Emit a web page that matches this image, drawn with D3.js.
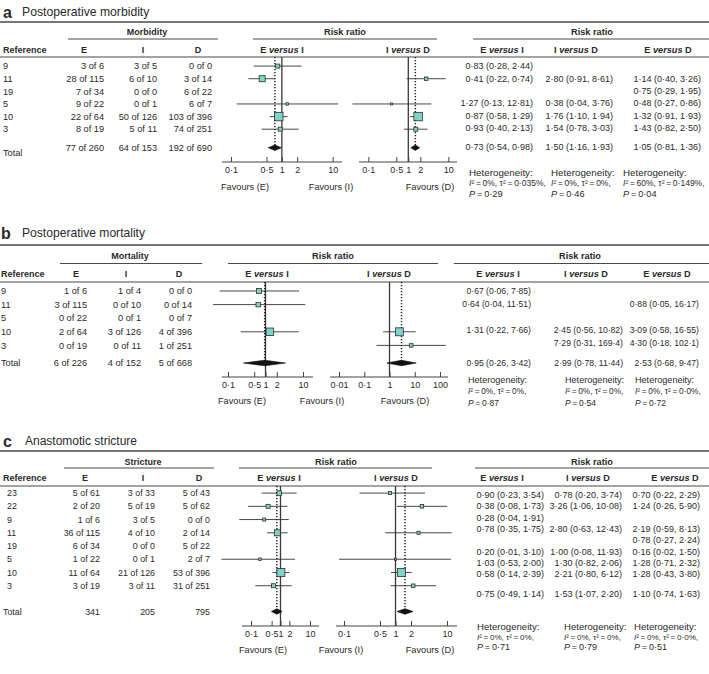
<!DOCTYPE html>
<html><head><meta charset="utf-8">
<script src="https://cdn.jsdelivr.net/npm/d3@7"></script>
<style>
body{margin:0;background:#fff;}
svg text{font-family:"Liberation Sans",Arial,Helvetica,sans-serif;fill:#2a2a2a;}
</style></head><body>
<svg id="chart" width="709" height="674"></svg>
<script>
// ---------- Panel a: Postoperative morbidity ----------
const refsA = ["9","11","19","5","10","3"];
const eA = ["3 of 6","28 of 115","7 of 34","9 of 22","22 of 64","8 of 19"];
const iA = ["3 of 5","6 of 10","0 of 0","0 of 1","50 of 126","5 of 11"];
const dA = ["0 of 0","3 of 14","6 of 22","6 of 7","103 of 396","74 of 251"];
const totA = ["77 of 260","64 of 153","192 of 690"];
const rrEI_A = [[0.83,0.28,2.44],[0.41,0.22,0.74],null,[1.27,0.13,12.81],[0.87,0.58,1.29],[0.93,0.40,2.13]];
const rrID_A = [null,[2.80,0.91,8.61],null,[0.38,0.04,3.76],[1.76,1.10,1.94],[1.54,0.78,3.03]];
const rrED_A = [null,[1.14,0.40,3.26],[0.75,0.29,1.95],[0.48,0.27,0.86],[1.32,0.91,1.93],[1.43,0.82,2.50]];
const poolA = [[0.73,0.54,0.98],[1.50,1.16,1.93],[1.05,0.81,1.36]];
const wEI_A = [12,27,null,4.6,53,12];
const wID_A = [null,9,null,3,53,12];
const hetA = {I2:["0%","0%","60%"], tau:["0·035%","0%","0·149%"], P:["0·29","0·46","0·04"]};

// ---------- Panel b: Postoperative mortality ----------
const refsB = ["9","11","5","10","3"];
const eB = ["1 of 6","3 of 115","0 of 22","2 of 64","0 of 19"];
const iB = ["1 of 4","0 of 10","0 of 1","3 of 126","0 of 11"];
const dB = ["0 of 0","0 of 14","0 of 7","4 of 396","1 of 251"];
const totB = ["6 of 226","4 of 152","5 of 668"];
const rrEI_B = [[0.67,0.06,7.85],[0.64,0.04,11.51],null,[1.31,0.22,7.66],null];
const rrID_B = [null,null,null,[2.45,0.56,10.82],[7.29,0.31,169.4]];
const rrED_B = [null,[0.88,0.05,16.17],null,[3.09,0.58,16.55],[4.30,0.18,102.1]];
const poolB = [[0.95,0.26,3.42],[2.99,0.78,11.44],[2.53,0.68,9.47]];
const wEI_B = [18.5,15,null,42,null];
const wID_B = [null,null,null,47,9];
const hetB = {I2:["0%","0%","0%"], tau:["0%","0%","0·0%"], P:["0·87","0·54","0·72"]};

// ---------- Panel c: Anastomotic stricture ----------
const refsC = ["23","22","9","11","19","5","10","3"];
const eC = ["5 of 61","2 of 20","1 of 6","36 of 115","6 of 34","1 of 22","11 of 64","3 of 19"];
const iC = ["3 of 33","5 of 19","3 of 5","4 of 10","0 of 0","0 of 1","21 of 126","3 of 11"];
const dC = ["5 of 43","5 of 62","0 of 0","2 of 14","5 of 22","2 of 7","53 of 396","31 of 251"];
const totC = ["341","205","795"];
const rrEI_C = [[0.90,0.23,3.54],[0.38,0.08,1.73],[0.28,0.04,1.91],[0.78,0.35,1.75],null,[0.20,0.01,3.10],[1.03,0.53,2.00],[0.58,0.14,2.39]];
const rrID_C = [[0.78,0.20,3.74],[3.26,1.06,10.08],null,[2.80,0.63,12.43],null,[1.00,0.08,11.93],[1.30,0.82,2.06],[2.21,0.80,6.12]];
const rrED_C = [[0.70,0.22,2.29],[1.24,0.26,5.90],null,[2.19,0.59,8.13],[0.78,0.27,2.24],[0.16,0.02,1.50],[1.28,0.71,2.32],[1.28,0.43,3.80]];
const poolC = [[0.75,0.49,1.14],[1.53,1.07,2.20],[1.10,0.74,1.63]];
const wEI_C = [15,12,6.7,27,null,4.6,47,12];
const wID_C = [6.7,9,null,6.7,null,3,47,9];
const hetC = {I2:["0%","0%","0%"], tau:["0%","0%","0·0%"], P:["0·71","0·79","0·51"]};

// ---------- Axis ticks ----------
const ticksStd = [0.1,0.5,1,2,10];
const tickLabStd = ["0·1","0·5","1","2","10"];
const ticksWide = [0.01,0.1,1,10,100];
const tickLabWide = ["0·01","0·1","1","10","100"];

// ---------- layout ----------
const panels = [
 {letter:"a", title:"Postoperative morbidity", letterX:3, titleX:22, titleY:12, topY:22, grpY:31.5, ulY:39, hdrY:50, hdrY2:57,
  grp:"Morbidity", grpX:147, grpLine:[68,218], plotHdrX:345, plotLine:[253,437], rtHdrX:592, rtLine:[473,709],
  refHX:3, refX:3, colX:[104,157,212], colHX:[84,143,198], row0:66.1, rowStep:12.62, totalY:147.7, totalLabelY:153,
  refs:refsA, cols:[eA,iA,dA], tot:totA, pool:poolA,
  cmp:[{rr:rrEI_A,w:wEI_A,k:0,d:[0.1,10],r:[231,332.7],ext:[222,342],ticks:ticksStd,tl:tickLabStd,hdrX:282,a:"E",b:"I"},
       {rr:rrID_A,w:wID_A,k:1,d:[0.1,10],r:[368.3,448.3],ext:[359,457],ticks:ticksStd,tl:tickLabStd,hdrX:408,a:"I",b:"D"}],
  axisY:162, favY:187, fav:[[245,"Favours (E)"],[331,"Favours (I)"],[430,"Favours (D)"]],
  rt:{x:[533,613,701], hx:[502,576,668], row0:66, step:12.4, totalY:147, data:[rrEI_A,rrID_A,rrED_A]},
  het:{d:hetA, x:[469,551,623], y:[173,183,193.3]},
  fs:9.2, rfs:9, hfs:9.8, h2fs:8.5, tfs:12.2},
 {letter:"b", title:"Postoperative mortality", letterX:1, titleX:22, titleY:233, topY:245, grpY:256, ulY:263.5, hdrY:274, hdrY2:282,
  grp:"Mortality", grpX:130, grpLine:[60,202], plotHdrX:333, plotLine:[228,438], rtHdrX:580, rtLine:[454,709],
  refHX:1, refX:1, colX:[87,141,192], colHX:[76,126,179], row0:291, rowStep:13.6, totalY:363, totalLabelY:363,
  refs:refsB, cols:[eB,iB,dB], tot:totB, pool:poolB,
  cmp:[{rr:rrEI_B,w:wEI_B,k:0,d:[0.1,10],r:[228,303],ext:[222,313],ticks:ticksStd,tl:tickLabStd,hdrX:267,a:"E",b:"I"},
       {rr:rrID_B,w:wID_B,k:1,d:[0.01,100],r:[339,440],ext:[330,448],ticks:ticksWide,tl:tickLabWide,hdrX:389,a:"I",b:"D"}],
  axisY:377, favY:401, fav:[[242,"Favours (E)"],[322,"Favours (I)"],[405,"Favours (D)"]],
  rt:{x:[531,623,699], hx:[498,586,667], row0:291, step:13, totalY:363, data:[rrEI_B,rrID_B,rrED_B]},
  het:{d:hetB, x:[468,565,635], y:[380,391,402.7]},
  fs:9.2, rfs:8.6, hfs:9.1, h2fs:8.3, tfs:12.1},
 {letter:"c", title:"Anastomotic stricture", letterX:3, titleX:25, titleY:441, topY:451, grpY:462, ulY:468, hdrY:478, hdrY2:486,
  grp:"Stricture", grpX:143, grpLine:[64,214], plotHdrX:336, plotLine:[239,432], rtHdrX:592, rtLine:[475,709],
  refHX:3, refX:7, colX:[100,155,210], colHX:[85,143,199], row0:493.1, rowStep:13.23, totalY:611.5, totalLabelY:612,
  refs:refsC, cols:[eC,iC,dC], tot:totC, pool:poolC,
  cmp:[{rr:rrEI_C,w:wEI_C,k:0,d:[0.1,10],r:[251,310],ext:[242,319],ticks:ticksStd,tl:tickLabStd,hdrX:279,a:"E",b:"I"},
       {rr:rrID_C,w:wID_C,k:1,d:[0.1,10],r:[344,447],ext:[336,457],ticks:ticksStd,tl:tickLabStd,hdrX:396,a:"I",b:"D"}],
  axisY:626, favY:650, fav:[[263,"Favours (E)"],[341,"Favours (I)"],[430,"Favours (D)"]],
  rt:{x:[544,622,700], hx:[502,588,675], row0:495, step:11.3, totalY:594, data:[rrEI_C,rrID_C,rrED_C]},
  het:{d:hetC, x:[477,564,634], y:[627,637,647]},
  fs:8.9, rfs:9, hfs:9.6, h2fs:8.1, tfs:12}
];

const svg = d3.select("#chart");
const fmt = v => (v >= 100 ? v.toFixed(1) : v.toFixed(2)).replace(".", "·");
const rrText = t => `${fmt(t[0])} (${fmt(t[1])}, ${fmt(t[2])})`;
const size = d3.scaleSqrt().domain([0,60]).range([0,9]);
const LINE = "#4a4a4a";

function hline(g, x1, x2, y, w){
  g.append("line").attr("x1",x1).attr("x2",x2).attr("y1",y).attr("y2",y)
   .attr("stroke",LINE).attr("stroke-width",w||1);
}
function txt(g, x, y, s, fs, anchor){
  return g.append("text").attr("x",x).attr("y",y).attr("dy","0.35em")
    .attr("font-size",fs).attr("text-anchor",anchor||"start").text(s);
}
function versus(g, x, y, a, b, fs){
  const t = g.append("text").attr("x",x).attr("y",y).attr("dy","0.35em")
    .attr("font-size",fs).attr("text-anchor","middle").attr("font-weight","bold");
  t.append("tspan").text(a+" ");
  t.append("tspan").attr("font-style","italic").text("versus");
  t.append("tspan").text(" "+b);
}

panels.forEach(p => {
  const g = svg.append("g");
  // title
  g.append("text").attr("x",p.letterX).attr("y",p.titleY).attr("dy","0.35em")
    .attr("font-size",16).attr("font-weight","bold").attr("fill","#111").text(p.letter);
  txt(g, p.titleX, p.titleY, p.title, p.tfs);
  // rules
  hline(g, 0, 709, p.topY, 1.4);
  hline(g, p.grpLine[0], p.grpLine[1], p.ulY, 1.2);
  hline(g, p.plotLine[0], p.plotLine[1], p.ulY, 1.2);
  hline(g, p.rtLine[0], p.rtLine[1], p.ulY, 1.2);
  hline(g, 0, 709, p.hdrY2, 1.2);
  // group headers
  txt(g, p.grpX, p.grpY, p.grp, 9, "middle").attr("font-weight","bold");
  txt(g, p.plotHdrX, p.grpY, "Risk ratio", 9.2, "middle").attr("font-weight","bold");
  txt(g, p.rtHdrX, p.grpY, "Risk ratio", 9.2, "middle").attr("font-weight","bold");
  // column headers
  txt(g, p.refHX, p.hdrY, "Reference", 9, "start").attr("font-weight","bold");
  ["E","I","D"].forEach((c,j) => txt(g, p.colHX[j], p.hdrY, c, 9, "middle").attr("font-weight","bold"));
  p.cmp.forEach(c => versus(g, c.hdrX, p.hdrY, c.a, c.b, 9.2));
  [["E","I"],["I","D"],["E","D"]].forEach((c,j) => versus(g, p.rt.hx[j], p.hdrY, c[0], c[1], 9.2));

  // left table
  const rowY = i => p.row0 + i*p.rowStep;
  p.refs.forEach((r,i) => {
    txt(g, p.refX, rowY(i), r, p.fs);
    p.cols.forEach((col,j) => txt(g, p.colX[j], rowY(i), col[i], p.fs, "end"));
  });
  txt(g, p.refHX, p.totalLabelY, "Total", p.fs);
  p.tot.forEach((v,j) => txt(g, p.colX[j], p.totalY, v, p.fs, "end"));

  // forest plots
  p.cmp.forEach(c => {
    const x = d3.scaleLog().domain(c.d).range(c.r);
    const fg = g.append("g");
    fg.append("line").attr("x1",x(1)).attr("x2",x(1)).attr("y1",p.hdrY2).attr("y2",p.axisY)
      .attr("stroke","#3a3a3a").attr("stroke-width",1.3);
    const pool = p.pool[c.k];
    fg.append("line").attr("x1",x(pool[0])).attr("x2",x(pool[0])).attr("y1",p.hdrY2).attr("y2",p.totalY)
      .attr("stroke","#222").attr("stroke-width",1.5).attr("stroke-dasharray","1.3,1.7");
    c.rr.forEach((d,i) => {
      if (!d) return;
      const y = rowY(i);
      fg.append("line").attr("x1",x(d[1])).attr("x2",x(d[2])).attr("y1",y).attr("y2",y)
        .attr("stroke","#333").attr("stroke-width",0.9);
      const s = Math.max(size(c.w[i]), 2);
      fg.append("rect").attr("x",x(d[0])-s/2).attr("y",y-s/2).attr("width",s).attr("height",s)
        .attr("fill","#7fd4c9").attr("stroke","#2f2f2f").attr("stroke-width",0.8);
    });
    const y = p.totalY, h = 2.8;
    fg.append("path")
      .attr("d",`M${x(pool[1])},${y}L${x(pool[0])},${y-h}L${x(pool[2])},${y}L${x(pool[0])},${y+h}Z`)
      .attr("fill","#111").attr("stroke","#111").attr("stroke-width",0.6);
    const ax = d3.axisBottom(x).tickValues(c.ticks).tickFormat((d,i)=>c.tl[i])
      .tickSizeInner(-5).tickSizeOuter(0).tickPadding(5);
    const ag = fg.append("g").attr("transform",`translate(0,${p.axisY})`).call(ax);
    ag.select(".domain").remove();
    ag.selectAll(".tick line").attr("stroke","#444").attr("stroke-width",1);
    ag.selectAll(".tick text").attr("font-size",9).attr("fill","#2a2a2a")
      .attr("font-family","Liberation Sans, Arial, sans-serif");
    fg.append("line").attr("x1",c.ext[0]).attr("x2",c.ext[1]).attr("y1",p.axisY).attr("y2",p.axisY)
      .attr("stroke","#444").attr("stroke-width",1.1);
  });
  p.fav.forEach(f => txt(g, f[0], p.favY, f[1], 9.2, "middle"));

  // right table
  const rY = i => p.rt.row0 + i*p.rt.step;
  p.rt.data.forEach((col,j) => {
    col.forEach((d,i) => { if (d) txt(g, p.rt.x[j], rY(i), rrText(d), p.rfs, "end"); });
    txt(g, p.rt.x[j], p.rt.totalY, rrText(p.pool[j]), p.rfs, "end");
  });

  // heterogeneity
  const hd = p.het.d;
  [0,1,2].forEach(j => {
    const x0 = p.het.x[j];
    txt(g, x0, p.het.y[0], "Heterogeneity:", p.hfs).attr("fill","#444");
    const t2 = txt(g, x0, p.het.y[1], "", p.h2fs).attr("fill","#555");
    t2.append("tspan").attr("font-style","italic").text("I");
    t2.append("tspan").text("²\u2009=\u2009" + hd.I2[j] + ", τ²\u2009=\u2009" + hd.tau[j] + ",");
    const t3 = txt(g, x0, p.het.y[2], "", p.hfs - 0.6).attr("fill","#444");
    t3.append("tspan").attr("font-style","italic").text("P");
    t3.append("tspan").text("\u2009=\u2009" + hd.P[j]);
  });
});
</script>
</body></html>
